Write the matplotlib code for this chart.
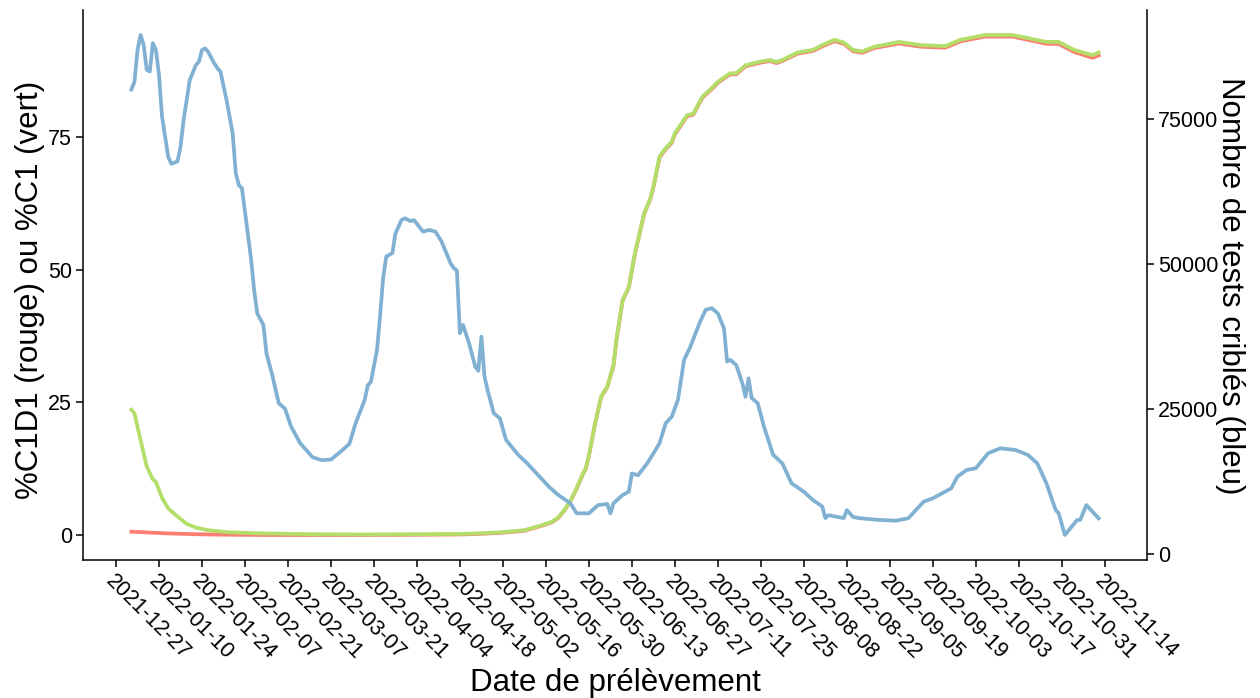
import matplotlib
matplotlib.use('Agg')
import matplotlib.pyplot as plt
import pandas as pd

plt.rcParams['font.family'] = ['Liberation Sans', 'DejaVu Sans']

START = pd.Timestamp('2022-01-01')

# Nombre de tests criblés (bleu): day offset from 2022-01-01, value
blue_days = [0, 1, 2, 3, 4, 5, 6, 7, 8, 9, 10, 12, 13, 15, 16, 17, 19, 21, 22, 23,
             24, 25, 27, 28, 29, 31, 33, 34, 35, 36, 39, 40, 41, 43, 44, 46, 48, 50, 52, 55,
             57, 59, 62, 65, 68, 71, 73, 76, 77, 78, 80, 81, 82, 83, 85, 86, 88, 89, 91, 92,
             95, 97, 99, 101, 104, 105, 106, 107, 108, 110, 112, 113, 114, 115, 116, 118, 120, 122, 126, 129,
             133, 136, 139, 143, 145, 149, 152, 155, 156, 157, 160, 162, 163, 165, 168, 169, 172, 174, 176, 178,
             180, 182, 185, 187, 189, 191, 193, 194, 195, 197, 199, 200, 201, 202, 204, 206, 209, 212, 215, 219,
             222, 225, 226, 227, 232, 233, 235, 237, 243, 249, 253, 258, 261, 267, 269, 272, 275, 279, 281, 283,
             288, 292, 295, 298, 301, 302, 304, 308, 309, 311, 313, 315]
blue_tests = [80000, 81300, 86800, 89400, 87700, 83400, 83100, 88000, 86800, 82500, 75300, 68400, 67200, 67600, 70100, 74700, 81600, 84200, 84800, 86800,
              87100, 86500, 84500, 83700, 83100, 78200, 72400, 65600, 63500, 63000, 50700, 45300, 41400, 39400, 34500, 30500, 25900, 25000, 21900, 19000,
              17800, 16600, 16100, 16200, 17500, 18900, 22400, 26500, 29000, 29600, 35100, 41000, 47500, 51200, 51800, 55200, 57500, 57800, 57300, 57500,
              55500, 55800, 55500, 53800, 50000, 49200, 48800, 38000, 39400, 36200, 32200, 31500, 37400, 30500, 28200, 24200, 23300, 19600, 17000, 15500,
              13200, 11500, 10100, 8650, 6930, 6930, 8360, 8530, 6930, 8650, 10100, 10650, 13800, 13500, 15550, 16400, 19000, 22450, 23600, 26500,
              33400, 35600, 39700, 42000, 42300, 41400, 38800, 33100, 33400, 32500, 29300, 27000, 30200, 26800, 25900, 21900, 17000, 15550, 12100, 10650,
              9200, 8100, 6100, 6600, 6100, 7500, 6300, 6100, 5800, 5660, 6070, 8930, 9520, 11240, 13240, 14400, 14700, 17270, 17720, 18140,
              17840, 16980, 15550, 12100, 7500, 6930, 3190, 5780, 5780, 8360, 7210, 6070]

# %C1 (vert) and %C1D1 (rouge): day offset from 2022-01-01
pct_days = [0, 1, 3, 5, 7, 8, 10, 12, 14, 15, 18, 21, 25, 32, 43, 59, 75, 95, 107, 113,
            120, 128, 134, 137, 139, 141, 143, 145, 147, 148, 149, 151, 153, 155, 157, 158, 160, 162, 164, 167,
            169, 170, 172, 174, 176, 177, 181, 183, 186, 189, 191, 195, 197, 200, 205, 208, 210, 212, 217, 222,
            225, 229, 232, 235, 238, 242, 250, 257, 265, 270, 278, 287, 298, 302, 307, 313, 315]
pct_c1 = [23.6, 22.9, 17.9, 12.9, 10.5, 10.0, 7.0, 5.0, 4.0, 3.5, 2.1, 1.4, 0.9, 0.5, 0.3, 0.15, 0.1, 0.15, 0.2, 0.3,
          0.5, 0.9, 1.9, 2.5, 3.3, 4.7, 6.5, 8.8, 11.5, 12.6, 15.0, 21.0, 26.1, 28.0, 32.0, 37.0, 44.3, 46.7, 53.1, 60.6,
          63.4, 65.6, 71.3, 72.9, 74.1, 75.7, 79.1, 79.4, 82.6, 84.2, 85.4, 87.0, 87.0, 88.5, 89.2, 89.5, 89.1, 89.5, 90.9, 91.4,
          92.3, 93.3, 92.8, 91.4, 91.1, 92.0, 92.9, 92.3, 92.1, 93.3, 94.2, 94.2, 92.9, 92.9, 91.4, 90.4, 90.9]
pct_c1d1 = [0.62, 0.6, 0.55, 0.48, 0.42, 0.4, 0.35, 0.3, 0.26, 0.24, 0.2, 0.15, 0.1, 0.05, 0.0, 0.0, 0.0, 0.05, 0.1, 0.2,
            0.4, 0.8, 1.8, 2.4, 3.2, 4.6, 6.4, 8.7, 11.4, 12.5, 14.9, 20.9, 26.0, 27.9, 31.9, 36.9, 44.2, 46.6, 53.0, 60.5,
            63.3, 65.5, 71.1, 72.7, 73.9, 75.5, 78.9, 79.2, 82.4, 84.0, 85.2, 86.8, 86.8, 88.3, 89.0, 89.3, 88.9, 89.3, 90.7, 91.2,
            92.05, 93.05, 92.55, 91.15, 90.85, 91.75, 92.6, 92.0, 91.8, 93.0, 93.9, 93.9, 92.55, 92.5, 91.0, 89.9, 90.35]

tick_labels = ['2021-12-27', '2022-01-10', '2022-01-24', '2022-02-07', '2022-02-21', '2022-03-07',
               '2022-03-21', '2022-04-04', '2022-04-18', '2022-05-02', '2022-05-16', '2022-05-30',
               '2022-06-13', '2022-06-27', '2022-07-11', '2022-07-25', '2022-08-08', '2022-08-22',
               '2022-09-05', '2022-09-19', '2022-10-03', '2022-10-17', '2022-10-31', '2022-11-14']
left_ticks = [0, 25, 50, 75]
right_ticks = [0, 25000, 50000, 75000]

C_RED = '#FB8072'
C_GREEN = '#B3DE69'
C_BLUE = '#80B1D3'

blue_x = START + pd.to_timedelta(blue_days, unit='D')
pct_x = START + pd.to_timedelta(pct_days, unit='D')

W, H = 1260, 698
fig = plt.figure(figsize=(W / 100, H / 100), dpi=100)
L, R, T, B = 83, 1147, 10, 560
ax = fig.add_axes([L / W, 1 - B / H, (R - L) / W, (B - T) / H])
ax2 = ax.twinx()

lw = 2.7
ax.plot(pct_x, pct_c1d1, color=C_RED, lw=lw, solid_joinstyle='round')
ax.plot(pct_x, pct_c1, color=C_GREEN, lw=lw, solid_joinstyle='round')
ax2.plot(blue_x, blue_tests, color=C_BLUE, lw=lw, solid_joinstyle='round')

ax.margins(x=0.05, y=0.05)
ax2.margins(x=0.05, y=0.05)

ticks = pd.to_datetime(tick_labels)
ax.set_xticks(ticks)
ax.set_xticklabels(tick_labels, rotation=-45, ha='left', va='top', rotation_mode='anchor')
ax.set_yticks(left_ticks)
ax.set_yticklabels([str(v) for v in left_ticks])
ax2.set_yticks(right_ticks)
ax2.set_yticklabels([str(v) for v in right_ticks])

for a in (ax, ax2):
    a.spines['top'].set_visible(False)
    for s in a.spines.values():
        s.set_linewidth(1.1)
        s.set_color('black')
    a.tick_params(axis='both', direction='out', length=5, width=1.1, colors='black',
                  labelsize=15.5, pad=3)
ax2.spines['left'].set_visible(False)
ax2.spines['bottom'].set_visible(False)
ax.spines['right'].set_visible(False)

fig.text(30 / W, 1 - 290 / H, '%C1D1 (rouge) ou %C1 (vert)', rotation=90,
         ha='center', va='center', fontsize=22.5)
fig.text(1230 / W, 1 - 286 / H, 'Nombre de tests criblés (bleu)', rotation=-90,
         ha='center', va='center', fontsize=22.5)
fig.text(615 / W, 1 - 683 / H, 'Date de prélèvement', ha='center', va='center', fontsize=22.5)

fig.savefig('out.png', dpi=100, facecolor='white')
